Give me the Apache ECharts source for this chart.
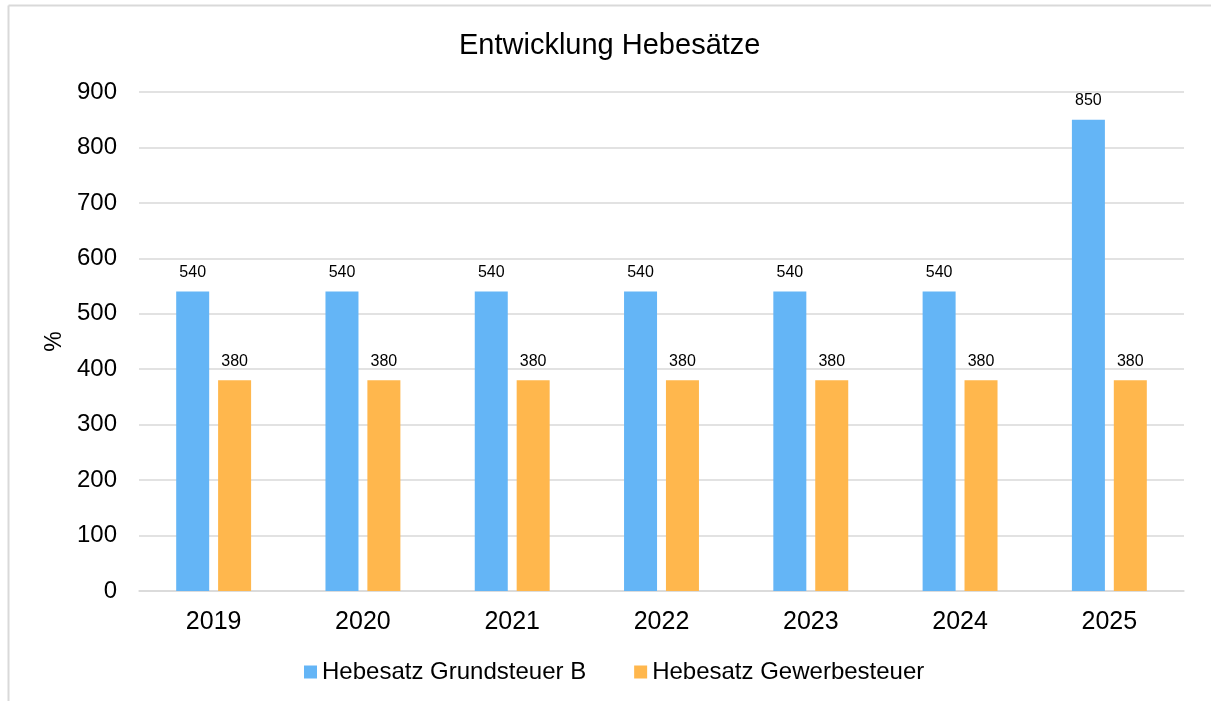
<!DOCTYPE html>
<html><head><meta charset="utf-8">
<script src="https://cdn.jsdelivr.net/npm/echarts@6/dist/echarts.min.js"></script>
<style>html,body{margin:0;padding:0;background:#fff}#c{width:1211px;height:701px}</style>
</head><body><div id="c"></div>
<script>
const categories = ['2019','2020','2021','2022','2023','2024','2025'];
const grundsteuerB = [540,540,540,540,540,540,850];
const gewerbesteuer = [380,380,380,380,380,380,380];
const yTicks = [0,100,200,300,400,500,600,700,800,900];
const F = 'Arial, "Liberation Sans", sans-serif';
const chart = echarts.init(document.getElementById('c'));
const lbl = {show:true, position:'top', distance:11, color:'#000', fontSize:16, fontFamily:F};
chart.setOption({
  animation:false,
  title:{text:'Entwicklung Hebesätze', left:454, top:26, textStyle:{fontSize:29, fontWeight:'normal', color:'#000', fontFamily:F}},
  graphic:[
    {type:'line', shape:{x1:8.5,y1:5.5,x2:1211,y2:5.5}, style:{stroke:'#d9d9d9', lineWidth:2}},
    {type:'line', shape:{x1:8.5,y1:5.5,x2:8.5,y2:701}, style:{stroke:'#d9d9d9', lineWidth:2}}
  ],
  legend:{bottom:12, left:299, itemWidth:13, itemHeight:13, itemGap:48, icon:'rect', textStyle:{fontSize:24, color:'#000', fontFamily:F}},
  grid:{left:139, right:27, top:92, bottom:110, containLabel:false},
  xAxis:{type:'category', data:categories, axisLine:{lineStyle:{color:'#d9d9d9', width:1.5}}, axisTick:{show:false},
    axisLabel:{fontSize:25, color:'#000', fontFamily:F, margin:19}},
  yAxis:{type:'value', min:0, max:900, interval:100, name:'%', nameLocation:'middle', nameGap:69, nameRotate:90,
    nameTextStyle:{fontSize:23, color:'#000', fontFamily:F},
    axisLabel:{fontSize:24, color:'#000', fontFamily:F, margin:22, formatter:v=>yTicks.includes(v)?String(v):''},
    splitLine:{lineStyle:{color:'#d9d9d9', width:1.5}}, axisLine:{show:false}, axisTick:{show:false}},
  series:[
    {name:'Hebesatz Grundsteuer B', type:'bar', data:grundsteuerB, barWidth:33, barGap:'27%', itemStyle:{color:'#64B5F6'}, label:lbl},
    {name:'Hebesatz Gewerbesteuer', type:'bar', data:gewerbesteuer, barWidth:33, itemStyle:{color:'#FFB74D'}, label:lbl}
  ]
});
</script></body></html>
